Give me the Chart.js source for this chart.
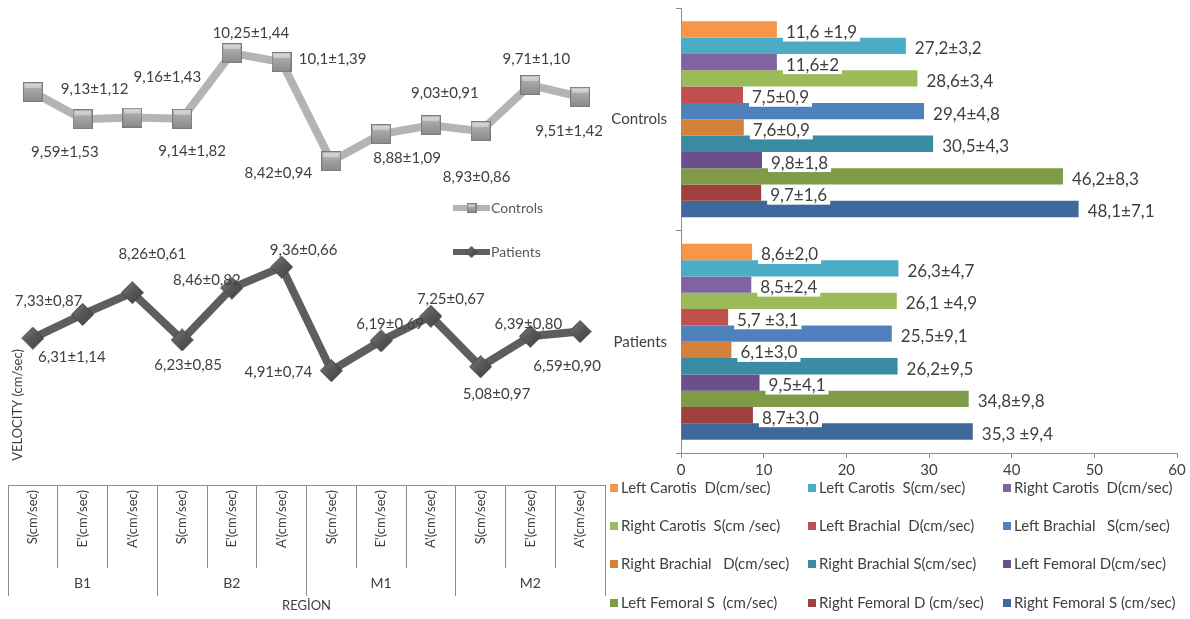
<!DOCTYPE html>
<html>
<head>
<meta charset="utf-8">
<title>Velocity and Doppler values</title>
<script src="https://cdn.jsdelivr.net/npm/chart.js@4.4.1/dist/chart.umd.min.js"></script>
<style>
  html, body { margin: 0; padding: 0; background: #ffffff; }
  #wrap { position: relative; width: 1190px; height: 619px; overflow: hidden; background: #ffffff; }
  #velocity { position: absolute; left: 0; top: 0; }
  #doppler { position: absolute; left: 600px; top: 0; }
</style>
</head>
<body>
<div id="wrap">
  <canvas id="velocity" width="606" height="619"></canvas>
  <canvas id="doppler" width="590" height="619"></canvas>
</div>
<script>
// ---- Tissue velocity by region (left panel) ----
const measures = ['S(cm/sec)', "E'(cm/sec)", "A'(cm/sec)"];
const regions = ['B1', 'B2', 'M1', 'M2'];

const controlsMean = [9.59, 9.13, 9.16, 9.14, 10.25, 10.1, 8.42, 8.88, 9.03, 8.93, 9.71, 9.51];
const controlsSD   = ['1,53', '1,12', '1,43', '1,82', '1,44', '1,39', '0,94', '1,09', '0,91', '0,86', '1,10', '1,42'];
const patientsMean = [6.31, 7.33, 8.26, 6.23, 8.46, 9.36, 4.91, 6.19, 7.25, 5.08, 6.39, 6.59];
const patientsSD   = ['1,14', '0,87', '0,61', '0,85', '0,82', '0,66', '0,74', '0,69', '0,67', '0,97', '0,80', '0,90'];

// ---- Arterial Doppler velocities (right panel) ----
const groups = ['Controls', 'Patients'];
const vessels = [
  'Left Carotis  D(cm/sec)', 'Left Carotis  S(cm/sec)', 'Right Carotis  D(cm/sec)',
  'Right Carotis  S(cm /sec)', 'Left Brachial  D(cm/sec)', 'Left Brachial   S(cm/sec)',
  'Right Brachial   D(cm/sec)', 'Right Brachial S(cm/sec)', 'Left Femoral D(cm/sec)',
  'Left Femoral S  (cm/sec)', 'Right Femoral D (cm/sec)', 'Right Femoral S (cm/sec)'
];
const controlsBarMean = [11.6, 27.2, 11.6, 28.6, 7.5, 29.4, 7.6, 30.5, 9.8, 46.2, 9.7, 48.1];
const controlsBarSD   = [' ±1,9', '±3,2', '±2', '±3,4', '±0,9', '±4,8', '±0,9', '±4,3', '±1,8', '±8,3', '±1,6', '±7,1'];
const patientsBarMean = [8.6, 26.3, 8.5, 26.1, 5.7, 25.5, 6.1, 26.2, 9.5, 34.8, 8.7, 35.3];
const patientsBarSD   = ['±2,0', '±4,7', '±2,4', ' ±4,9', ' ±3,1', '±9,1', '±3,0', '±9,5', '±4,1', '±9,8', '±3,0', ' ±9,4'];

const vesselColors = [
  '#f79646', '#4bacc6', '#8064a2', '#9bbb59', '#c0504d', '#4f81bd',
  '#d4813c', '#3a8ca2', '#6a4f8b', '#7f9b48', '#9d403e', '#3f689b'
];

const FONT = 'Lato, "Open Sans", sans-serif';
const TEXT = '#404040';
const AXIS = '#8c8c8c';
Chart.defaults.font.family = FONT;
Chart.defaults.color = TEXT;

const comma = v => String(v).replace('.', ',');
const categories = regions.flatMap(() => measures);

// keep axes from reserving extra room for overhanging tick labels
const noOverhang = s => { s.paddingLeft = 0; s.paddingRight = 0; s.paddingTop = 0; s.paddingBottom = 0; };

// Bevelled markers
function squareMarker(s) {
  const c = document.createElement('canvas');
  c.width = c.height = s;
  const g = c.getContext('2d');
  const grad = g.createLinearGradient(0, 0, 0, s);
  grad.addColorStop(0, '#cfcfcf');
  grad.addColorStop(0.3, '#aaaaaa');
  grad.addColorStop(1, '#8a8a8a');
  g.fillStyle = grad;
  g.fillRect(0, 0, s, s);
  g.fillStyle = 'rgba(255,255,255,0.35)';
  g.fillRect(2, 2, s - 4, Math.round(s * 0.18));
  g.strokeStyle = '#7a7a7a';
  g.lineWidth = 1;
  g.strokeRect(0.5, 0.5, s - 1, s - 1);
  return c;
}
function diamondMarker(s) {
  const c = document.createElement('canvas');
  c.width = c.height = s;
  const g = c.getContext('2d');
  const h = s / 2;
  g.beginPath();
  g.moveTo(h, 0.5); g.lineTo(s - 0.5, h); g.lineTo(h, s - 0.5); g.lineTo(0.5, h);
  g.closePath();
  const grad = g.createLinearGradient(0, 0, s, s);
  grad.addColorStop(0, '#7c7c7c');
  grad.addColorStop(0.5, '#575757');
  grad.addColorStop(1, '#404040');
  g.fillStyle = grad;
  g.fill();
  g.strokeStyle = '#464646';
  g.lineWidth = 1;
  g.stroke();
  return c;
}

const squareBig = squareMarker(20), squareSmall = squareMarker(10);
const diamondBig = diamondMarker(23), diamondSmall = diamondMarker(12);

// Labels, legend entries and axis caption of the velocity panel
const velocityDecor = {
  id: 'velocityDecor',
  afterDatasetsDraw(chart, args, opts) {
    const ctx = chart.ctx;
    ctx.save();
    ctx.font = '15px ' + FONT;
    ctx.fillStyle = TEXT;
    ctx.textAlign = 'center';
    ctx.textBaseline = 'middle';
    chart.data.datasets.forEach((ds, di) => {
      const meta = chart.getDatasetMeta(di);
      meta.data.forEach((pt, i) => {
        const [dx, dy] = opts.offsets[di][i];
        ctx.fillText(ds.valueText[i], pt.x + dx, pt.y + dy);
      });
    });

    // legend entries: thick line sample with marker
    opts.legend.forEach((item, di) => {
      const ds = chart.data.datasets[di];
      ctx.strokeStyle = ds.borderColor;
      ctx.lineWidth = 6;
      ctx.beginPath();
      ctx.moveTo(item.x, item.y);
      ctx.lineTo(item.x + 37, item.y);
      ctx.stroke();
      const m = item.marker;
      ctx.drawImage(m, item.x + 18.5 - m.width / 2, item.y - m.height / 2);
      ctx.font = '14px ' + FONT;
      ctx.fillStyle = '#595959';
      ctx.textAlign = 'left';
      ctx.fillText(ds.label, item.x + 38, item.y);
    });

    // vertical axis caption
    ctx.font = '13px ' + FONT;
    ctx.fillStyle = TEXT;
    ctx.textAlign = 'center';
    ctx.translate(opts.caption.x, opts.caption.y);
    ctx.rotate(-Math.PI / 2);
    ctx.fillText(opts.caption.text, 0, 0);
    ctx.restore();
  }
};

new Chart(document.getElementById('velocity'), {
  type: 'line',
  data: {
    labels: categories,
    datasets: [
      {
        label: 'Controls',
        data: controlsMean,
        valueText: controlsMean.map((v, i) => comma(v) + '±' + controlsSD[i]),
        xAxisID: 'x',
        yAxisID: 'yControls',
        borderColor: '#b4b4b4',
        borderWidth: 8,
        pointStyle: squareBig,
        pointRadius: 10,
        tension: 0,
        fill: false
      },
      {
        label: 'Patients',
        data: patientsMean,
        valueText: patientsMean.map((v, i) => comma(v) + '±' + patientsSD[i]),
        xAxisID: 'x',
        yAxisID: 'yPatients',
        borderColor: '#5e5e5e',
        borderWidth: 8,
        pointStyle: diamondBig,
        pointRadius: 11,
        tension: 0,
        fill: false
      }
    ]
  },
  options: {
    responsive: false,
    animation: false,
    devicePixelRatio: 1,
    layout: { autoPadding: false, padding: { left: 8, right: 1, top: 10, bottom: 5 } },
    plugins: {
      legend: { display: false },
      tooltip: { enabled: false },
      velocityDecor: {
        offsets: [
          [[32, 60], [12, -30], [35, -40], [10, 32], [19, -20], [51, -3], [-53, 12], [26, 24], [14, -32], [-4, 46], [6, -26], [-11, 34]],
          [[39, 19], [-34, -13], [20, -39], [6, 25], [-25, -8], [22, -17], [-53, 1], [9, -17], [20, -17], [16, 27], [-2, -12], [-13, 35]]
        ],
        legend: [
          { x: 453, y: 208, marker: squareSmall },
          { x: 453, y: 252, marker: diamondSmall }
        ],
        caption: { x: 18, y: 405, text: 'VELOCITY (cm/sec)' }
      }
    },
    scales: {
      x: {
        type: 'category',
        position: 'bottom',
        weight: 1,
        offset: true,
        grid: { offset: true, drawOnChartArea: false, drawTicks: true, tickLength: 83, color: AXIS },
        border: { display: true, color: AXIS },
        ticks: { autoSkip: false, minRotation: 90, maxRotation: 90, padding: -78, color: TEXT, font: { size: 13 } },
        afterFit: s => { s.height = 83; noOverhang(s); }
      },
      region: {
        type: 'category',
        labels: regions,
        position: 'bottom',
        weight: 2,
        offset: true,
        grid: { offset: true, drawOnChartArea: false, drawTicks: true, tickLength: 28, color: AXIS },
        border: { display: false },
        ticks: { autoSkip: false, padding: -21, color: TEXT, font: { size: 14 } },
        title: { display: true, text: 'REGİON', color: TEXT, font: { size: 13 }, padding: 0 },
        afterFit: s => { s.height = 46; noOverhang(s); }
      },
      yPatients: { display: false, min: 0, max: 20.4 },
      yControls: { display: false, min: 2.94, max: 10.98 }
    }
  },
  plugins: [velocityDecor]
});

// Value labels and three-column legend of the Doppler panel
const dopplerDecor = {
  id: 'dopplerDecor',
  afterDatasetsDraw(chart, args, opts) {
    const ctx = chart.ctx;
    ctx.save();
    ctx.font = '17px ' + FONT;
    ctx.textAlign = 'left';
    ctx.textBaseline = 'middle';
    chart.data.datasets.forEach((ds, di) => {
      const meta = chart.getDatasetMeta(di);
      meta.data.forEach((bar, i) => {
        const text = ds.valueText[i];
        const w = ctx.measureText(text).width;
        const tx = bar.x + 9, ty = bar.y + 3;
        ctx.fillStyle = '#ffffff';
        ctx.fillRect(tx - 3, ty - 9, w + 6, 18);
        ctx.fillStyle = TEXT;
        ctx.fillText(text, tx, ty);
      });
    });

    ctx.font = '15px ' + FONT;
    chart.data.datasets.forEach((ds, di) => {
      const x = opts.columns[di % 3];
      const y = opts.rows[Math.floor(di / 3)];
      ctx.fillStyle = ds.backgroundColor;
      ctx.fillRect(x, y - 4, 8, 8);
      ctx.fillStyle = TEXT;
      ctx.fillText(ds.label, x + 11, y);
    });
    ctx.restore();
  }
};

new Chart(document.getElementById('doppler'), {
  type: 'bar',
  data: {
    labels: groups,
    datasets: vessels.map((name, i) => ({
      label: name,
      data: [controlsBarMean[i], patientsBarMean[i]],
      valueText: [comma(controlsBarMean[i]) + controlsBarSD[i], comma(patientsBarMean[i]) + patientsBarSD[i]],
      backgroundColor: vesselColors[i],
      borderWidth: 0,
      categoryPercentage: 0.88,
      barPercentage: 1.0
    }))
  },
  options: {
    indexAxis: 'y',
    responsive: false,
    animation: false,
    devicePixelRatio: 1,
    layout: { autoPadding: false, padding: { left: 0, right: 13, top: 8, bottom: 142 } },
    plugins: {
      legend: { display: false },
      tooltip: { enabled: false },
      dopplerDecor: {
        columns: [10, 208, 403],
        rows: [488, 526, 564, 603]
      }
    },
    scales: {
      y: {
        type: 'category',
        offset: true,
        grid: { offset: true, drawOnChartArea: false, drawTicks: true, tickLength: 5, color: AXIS },
        border: { color: AXIS },
        ticks: { padding: 9, color: TEXT, font: { size: 15 } },
        afterFit: s => { s.width = 81; noOverhang(s); }
      },
      x: {
        type: 'linear',
        min: 0,
        max: 60,
        grid: { drawOnChartArea: false, drawTicks: true, tickLength: 5, color: AXIS },
        border: { color: AXIS },
        ticks: { stepSize: 10, padding: 3, color: TEXT, font: { size: 15 } },
        afterFit: s => { s.height = 24; noOverhang(s); }
      }
    }
  },
  plugins: [dopplerDecor]
});
</script>
</body>
</html>
